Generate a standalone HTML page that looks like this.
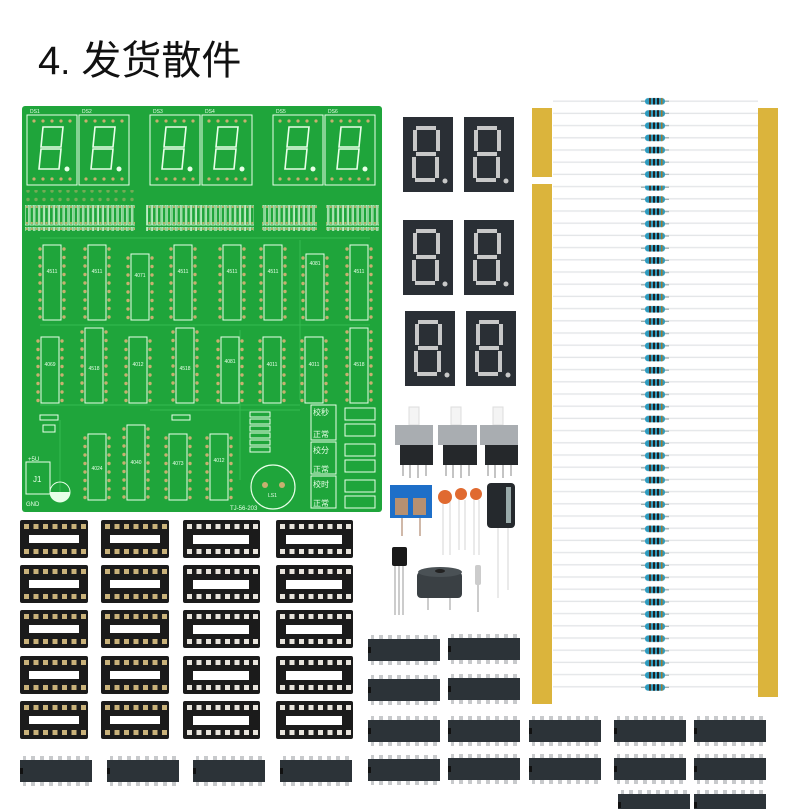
<!DOCTYPE html>
<html><head><meta charset="utf-8"><style>
html,body{margin:0;padding:0;background:#fff;}
body{width:800px;height:809px;overflow:hidden;position:relative;}
</style></head><body>
<svg width="800" height="809" viewBox="0 0 800 809" xmlns="http://www.w3.org/2000/svg" style="position:absolute;left:0;top:0">
<defs>
  <pattern id="rline" x="0" y="95" width="210" height="12.2" patternUnits="userSpaceOnUse">
    <rect x="0" y="5.5" width="210" height="1.4" fill="#e4e6e8"/>
  </pattern>
  <pattern id="res" x="640" y="95" width="30" height="12.2" patternUnits="userSpaceOnUse">
    <rect x="1" y="5.6" width="28" height="1.2" fill="#9aa"/>
    <rect x="5" y="3" width="20" height="6.5" rx="3" fill="#2e9cc0"/>
    <rect x="9" y="3" width="2" height="6.5" fill="#4a3a2a"/>
    <rect x="13" y="3" width="2" height="6.5" fill="#222"/>
    <rect x="17" y="3" width="2" height="6.5" fill="#222"/>
    <rect x="21" y="3" width="1.5" height="6.5" fill="#a07a30"/>
  </pattern>
  <pattern id="pins8" x="0" y="0" width="9.5" height="10" patternUnits="userSpaceOnUse">
    <rect x="2" y="2" width="5" height="5" fill="#d9c79a"/>
  </pattern>
  <g id="sock7">
    <rect x="0" y="0" width="68" height="38" rx="2" fill="#1b1b1b"/>
    <rect x="9" y="15" width="50" height="8" fill="#fff"/>
    <g fill="#c9b27a">
      <rect x="4" y="4" width="5" height="5"/><rect x="13.5" y="4" width="5" height="5"/><rect x="23" y="4" width="5" height="5"/><rect x="32.5" y="4" width="5" height="5"/><rect x="42" y="4" width="5" height="5"/><rect x="51.5" y="4" width="5" height="5"/><rect x="61" y="4" width="5" height="5"/>
      <rect x="4" y="29" width="5" height="5"/><rect x="13.5" y="29" width="5" height="5"/><rect x="23" y="29" width="5" height="5"/><rect x="32.5" y="29" width="5" height="5"/><rect x="42" y="29" width="5" height="5"/><rect x="51.5" y="29" width="5" height="5"/><rect x="61" y="29" width="5" height="5"/>
    </g>
  </g>
  <g id="sock8">
    <rect x="0" y="0" width="77" height="38" rx="2" fill="#1b1b1b"/>
    <rect x="10" y="15" width="56" height="9" fill="#fff"/>
    <g fill="#e8e4dc">
      <rect x="4" y="4" width="5" height="5"/><rect x="13.5" y="4" width="5" height="5"/><rect x="23" y="4" width="5" height="5"/><rect x="32.5" y="4" width="5" height="5"/><rect x="42" y="4" width="5" height="5"/><rect x="51.5" y="4" width="5" height="5"/><rect x="61" y="4" width="5" height="5"/><rect x="70" y="4" width="5" height="5"/>
      <rect x="4" y="29" width="5" height="5"/><rect x="13.5" y="29" width="5" height="5"/><rect x="23" y="29" width="5" height="5"/><rect x="32.5" y="29" width="5" height="5"/><rect x="42" y="29" width="5" height="5"/><rect x="51.5" y="29" width="5" height="5"/><rect x="61" y="29" width="5" height="5"/><rect x="70" y="29" width="5" height="5"/>
    </g>
  </g>
  <g id="chip">
    <rect x="3" y="0" width="66" height="30" fill="url(#cp)"/>
    <rect x="0" y="4" width="72" height="22" fill="#2c3338"/>
    <rect x="0" y="12" width="3" height="6" fill="#111"/>
  </g>
  <pattern id="cp" x="0" y="0" width="9" height="30" patternUnits="userSpaceOnUse">
    <rect x="2" y="0" width="4" height="30" fill="#c8cacc"/>
  </pattern>
  <g id="seg">
    <rect x="0" y="0" width="50" height="75" fill="#2a2f35"/>
    <g fill="#c8c8c8">
      <rect x="13" y="9" width="20" height="4"/>
      <rect x="10" y="13" width="4" height="21"/>
      <rect x="33" y="13" width="4" height="21"/>
      <rect x="13" y="35" width="20" height="4"/>
      <rect x="9" y="40" width="4" height="21"/>
      <rect x="32" y="40" width="4" height="21"/>
      <rect x="12" y="61" width="20" height="4"/>
      <circle cx="42" cy="64" r="2.5"/>
    </g>
  </g>
  <g id="pdisp">
    <rect x="0" y="0" width="50" height="70" fill="none" stroke="#e8ffe8" stroke-width="1"/>
    <g fill="none" stroke="#e8ffe8" stroke-width="1.6">
      <path d="M16 12 H36 L34 32 H14 Z M14 34 H34 L32 54 H12 Z"/>
    </g>
    <circle cx="40" cy="54" r="2.5" fill="#e8ffe8"/>
    <g fill="#c8b070"><circle cx="7" cy="6" r="1.6"/><circle cx="16" cy="6" r="1.6"/><circle cx="25" cy="6" r="1.6"/><circle cx="34" cy="6" r="1.6"/><circle cx="43" cy="6" r="1.6"/>
    <circle cx="7" cy="64" r="1.6"/><circle cx="16" cy="64" r="1.6"/><circle cx="25" cy="64" r="1.6"/><circle cx="34" cy="64" r="1.6"/><circle cx="43" cy="64" r="1.6"/></g>
  </g>
  <pattern id="rstrip" x="0" y="205" width="4.9" height="22" patternUnits="userSpaceOnUse">
    <rect x="0.6" y="0" width="3.6" height="20" fill="none" stroke="#e8ffe8" stroke-width="0.8"/>
    <circle cx="2.4" cy="2" r="1.1" fill="#c8b070"/><circle cx="2.4" cy="18" r="1.1" fill="#c8b070"/>
  </pattern>
  <pattern id="ichole" x="0" y="0" width="8" height="8.5" patternUnits="userSpaceOnUse">
    <circle cx="4" cy="4" r="1.7" fill="#c8b070"/>
  </pattern>
  <g id="ic1">
    <rect x="-9" y="0" width="18" height="75" fill="none" stroke="#e8ffe8" stroke-width="1"/>
    <rect x="-17" y="2" width="7" height="72" fill="url(#ichole)"/>
    <rect x="10" y="2" width="7" height="72" fill="url(#ichole)"/>
  </g>
  <g id="ic2">
    <rect x="-9" y="0" width="18" height="66" fill="none" stroke="#e8ffe8" stroke-width="1"/>
    <rect x="-17" y="2" width="7" height="64" fill="url(#ichole)"/>
    <rect x="10" y="2" width="7" height="64" fill="url(#ichole)"/>
  </g>
</defs>

<!-- title -->
<text x="38" y="74" font-family="Liberation Sans, 'Noto Sans CJK SC', sans-serif" font-size="40" fill="#111">4<tspan font-size="36">.</tspan> 发货散件</text>

<!-- PCB -->
<rect x="22" y="106" width="360" height="406" rx="3" fill="#1fa53b"/>
<g stroke="#3cc256" stroke-width="1" fill="none" opacity="0.8">
  <path d="M40 238 H370 M40 325 H370 M40 405 H300 M60 420 V500 M300 240 V400 M240 330 V480 M150 410 H300"/>
</g>
<use href="#pdisp" x="27" y="115"/>
<use href="#pdisp" x="79" y="115"/>
<use href="#pdisp" x="150" y="115"/>
<use href="#pdisp" x="202" y="115"/>
<use href="#pdisp" x="273" y="115"/>
<use href="#pdisp" x="325" y="115"/>
<g font-family="Liberation Sans, sans-serif" font-size="5" fill="#e8ffe8">
  <text x="30" y="113">DS1</text><text x="82" y="113">DS2</text><text x="153" y="113">DS3</text><text x="205" y="113">DS4</text><text x="276" y="113">DS5</text><text x="328" y="113">DS6</text>
</g>
<rect x="25" y="190" width="110" height="12" fill="url(#ichole)" opacity="0.5"/>
<rect x="25" y="205" width="110" height="26" fill="url(#rstrip)"/>
<rect x="146" y="205" width="108" height="26" fill="url(#rstrip)"/>
<rect x="262" y="205" width="55" height="26" fill="url(#rstrip)"/>
<rect x="326" y="205" width="53" height="26" fill="url(#rstrip)"/>
<!-- ICs row1 -->
<use href="#ic1" x="52" y="245"/><use href="#ic1" x="97" y="245"/><use href="#ic2" x="140" y="254"/><use href="#ic1" x="183" y="245"/>
<use href="#ic1" x="232" y="245"/><use href="#ic1" x="273" y="245"/><use href="#ic2" x="315" y="254"/><use href="#ic1" x="359" y="245"/>
<!-- ICs row2 -->
<use href="#ic2" x="50" y="337"/><use href="#ic1" x="94" y="328"/><use href="#ic2" x="138" y="337"/><use href="#ic1" x="185" y="328"/>
<use href="#ic2" x="230" y="337"/><use href="#ic2" x="272" y="337"/><use href="#ic2" x="314" y="337"/><use href="#ic1" x="359" y="328"/>
<!-- bottom ICs -->
<use href="#ic2" x="97" y="434"/><use href="#ic1" x="136" y="425"/><use href="#ic2" x="178" y="434"/><use href="#ic2" x="219" y="434"/>
<g font-family="Liberation Sans, sans-serif" font-size="5" fill="#e8ffe8" text-anchor="middle">
  <text x="52" y="273">4511</text><text x="97" y="273">4511</text><text x="140" y="277">4071</text><text x="183" y="273">4511</text><text x="232" y="273">4511</text><text x="273" y="273">4511</text><text x="315" y="265">4081</text><text x="359" y="273">4511</text>
  <text x="50" y="366">4069</text><text x="94" y="370">4518</text><text x="138" y="366">4012</text><text x="185" y="370">4518</text><text x="230" y="363">4081</text><text x="272" y="366">4011</text><text x="314" y="366">4011</text><text x="359" y="366">4518</text>
  <text x="97" y="470">4024</text><text x="136" y="464">4040</text><text x="178" y="465">4073</text><text x="219" y="462">4012</text>
</g>
<!-- misc -->
<rect x="26" y="462" width="24" height="32" fill="none" stroke="#e8ffe8"/>
<text x="28" y="461" font-family="Liberation Sans, sans-serif" font-size="6" fill="#e8ffe8">+5U</text>
<text x="33" y="482" font-family="Liberation Sans, sans-serif" font-size="8" fill="#e8ffe8">J1</text>
<text x="26" y="506" font-family="Liberation Sans, sans-serif" font-size="6" fill="#e8ffe8">GND</text>
<circle cx="60" cy="492" r="10" fill="none" stroke="#e8ffe8"/>
<path d="M50 492 A10 10 0 0 0 70 492 Z" fill="#e8ffe8"/>
<circle cx="273" cy="487" r="22" fill="none" stroke="#e8ffe8" stroke-width="1.2"/>
<circle cx="265" cy="485" r="3" fill="#c8b070"/><circle cx="282" cy="485" r="3" fill="#c8b070"/>
<text x="268" y="497" font-family="Liberation Sans, sans-serif" font-size="5" fill="#e8ffe8">LS1</text>
<text x="230" y="510" font-family="Liberation Sans, sans-serif" font-size="6" fill="#e8ffe8">TJ-56-203</text>
<g fill="none" stroke="#e8ffe8"><rect x="250" y="412" width="20" height="5"/><rect x="250" y="419" width="20" height="5"/><rect x="250" y="426" width="20" height="5"/><rect x="250" y="433" width="20" height="5"/><rect x="250" y="440" width="20" height="5"/><rect x="250" y="447" width="20" height="5"/><rect x="172" y="415" width="18" height="5"/><rect x="40" y="415" width="18" height="5"/><rect x="43" y="425" width="12" height="7"/></g>
<g fill="none" stroke="#e8ffe8">
  <rect x="311" y="405" width="25" height="35"/><rect x="311" y="442" width="25" height="32"/><rect x="311" y="476" width="25" height="32"/>
  <rect x="345" y="408" width="30" height="12"/><rect x="345" y="424" width="30" height="12"/><rect x="345" y="444" width="30" height="12"/><rect x="345" y="460" width="30" height="12"/><rect x="345" y="480" width="30" height="12"/><rect x="345" y="496" width="30" height="12"/>
</g>
<g font-family="'Noto Sans CJK SC', sans-serif" font-size="8" fill="#e8ffe8">
  <text x="313" y="415">校秒</text><text x="313" y="437">正常</text><text x="313" y="453">校分</text><text x="313" y="472">正常</text><text x="313" y="487">校时</text><text x="313" y="506">正常</text>
</g>

<!-- 7-seg displays -->
<use href="#seg" x="403" y="117"/><use href="#seg" x="464" y="117"/>
<use href="#seg" x="403" y="220"/><use href="#seg" x="464" y="220"/>
<use href="#seg" x="405" y="311"/><use href="#seg" x="466" y="311"/>

<!-- buttons -->
<g>
  <g stroke="#888" stroke-width="1"><path d="M403 465 V476 M410 465 V478 M418 465 V478 M426 465 V476 M446 465 V476 M453 465 V478 M461 465 V478 M469 465 V476 M488 465 V476 M495 465 V478 M503 465 V478 M511 465 V476"/></g>
  <rect x="409" y="407" width="10" height="18" fill="#f4f4f4" stroke="#ddd"/>
  <rect x="451" y="407" width="10" height="18" fill="#f4f4f4" stroke="#ddd"/>
  <rect x="493" y="407" width="10" height="18" fill="#f4f4f4" stroke="#ddd"/>
  <rect x="395" y="425" width="38" height="20" fill="#a9adb1"/><rect x="400" y="445" width="33" height="20" fill="#25282b"/>
  <rect x="438" y="425" width="39" height="20" fill="#a9adb1"/><rect x="443" y="445" width="34" height="20" fill="#25282b"/>
  <rect x="480" y="425" width="38" height="20" fill="#a9adb1"/><rect x="485" y="445" width="33" height="20" fill="#25282b"/>
</g>
<!-- terminal block -->
<g stroke="#b08a70" stroke-width="1.2"><path d="M402 518 V536 M420 518 V536"/></g>
<rect x="390" y="485" width="42" height="33" fill="#1e6fc8"/>
<rect x="395" y="498" width="13" height="17" fill="#b69071"/><rect x="413" y="498" width="13" height="17" fill="#b69071"/>
<!-- caps -->
<g stroke="#ddd" stroke-width="1.2"><path d="M443 502 V555 M450 502 V555 M459 500 V550 M465 500 V550 M474 500 V555 M479 500 V555 M498 528 V598 M508 528 V590"/></g>
<circle cx="445" cy="497" r="7" fill="#e06a30"/><circle cx="461" cy="494" r="6" fill="#e06a30"/><circle cx="476" cy="494" r="6" fill="#e06a30"/>
<rect x="487" y="483" width="28" height="45" rx="4" fill="#25292d"/>
<rect x="506" y="487" width="5" height="36" fill="#9aa"/>
<!-- transistor, buzzer, crystal -->
<g stroke="#aaa" stroke-width="1.2"><path d="M395 565 V615 M399 565 V615 M403 565 V615 M428 595 V610 M450 595 V610 M478 585 V612"/></g>
<rect x="392" y="547" width="15" height="19" rx="2" fill="#1a1a1a"/>
<rect x="417" y="572" width="45" height="26" rx="4" fill="#3a4044"/>
<ellipse cx="440" cy="572" rx="22" ry="5" fill="#4a5155"/>
<ellipse cx="440" cy="571" rx="5" ry="2" fill="#222"/>
<rect x="475" y="565" width="6" height="20" rx="2" fill="#ccc"/>

<!-- resistor tape -->
<rect x="553" y="95" width="205" height="600" fill="url(#rline)"/>
<rect x="532" y="108" width="20" height="69" fill="#dbb43c"/>
<rect x="532" y="184" width="20" height="520" fill="#dbb43c"/>
<rect x="758" y="108" width="20" height="589" fill="#dbb43c"/>
<rect x="640" y="95" width="30" height="86" fill="url(#res)"/>
<rect x="640" y="185" width="30" height="510" fill="url(#res)" transform="translate(0,0.6)"/>

<!-- IC sockets -->
<use href="#sock7" x="20" y="520"/><use href="#sock7" x="101" y="520"/><use href="#sock8" x="183" y="520"/><use href="#sock8" x="276" y="520"/>
<use href="#sock7" x="20" y="565"/><use href="#sock7" x="101" y="565"/><use href="#sock8" x="183" y="565"/><use href="#sock8" x="276" y="565"/>
<use href="#sock7" x="20" y="610"/><use href="#sock7" x="101" y="610"/><use href="#sock8" x="183" y="610"/><use href="#sock8" x="276" y="610"/>
<use href="#sock7" x="20" y="656"/><use href="#sock7" x="101" y="656"/><use href="#sock8" x="183" y="656"/><use href="#sock8" x="276" y="656"/>
<use href="#sock7" x="20" y="701"/><use href="#sock7" x="101" y="701"/><use href="#sock8" x="183" y="701"/><use href="#sock8" x="276" y="701"/>

<!-- chips -->
<use href="#chip" x="20" y="756"/><use href="#chip" x="107" y="756"/><use href="#chip" x="193" y="756"/><use href="#chip" x="280" y="756"/>
<use href="#chip" x="368" y="635"/><use href="#chip" x="448" y="634"/>
<use href="#chip" x="368" y="675"/><use href="#chip" x="448" y="674"/>
<use href="#chip" x="368" y="716"/><use href="#chip" x="368" y="755"/>
<use href="#chip" x="448" y="716"/><use href="#chip" x="529" y="716"/><use href="#chip" x="614" y="716"/><use href="#chip" x="694" y="716"/>
<use href="#chip" x="448" y="754"/><use href="#chip" x="529" y="754"/><use href="#chip" x="614" y="754"/><use href="#chip" x="694" y="754"/>
<use href="#chip" x="618" y="790"/><use href="#chip" x="694" y="790"/>
</svg>
</body></html>
